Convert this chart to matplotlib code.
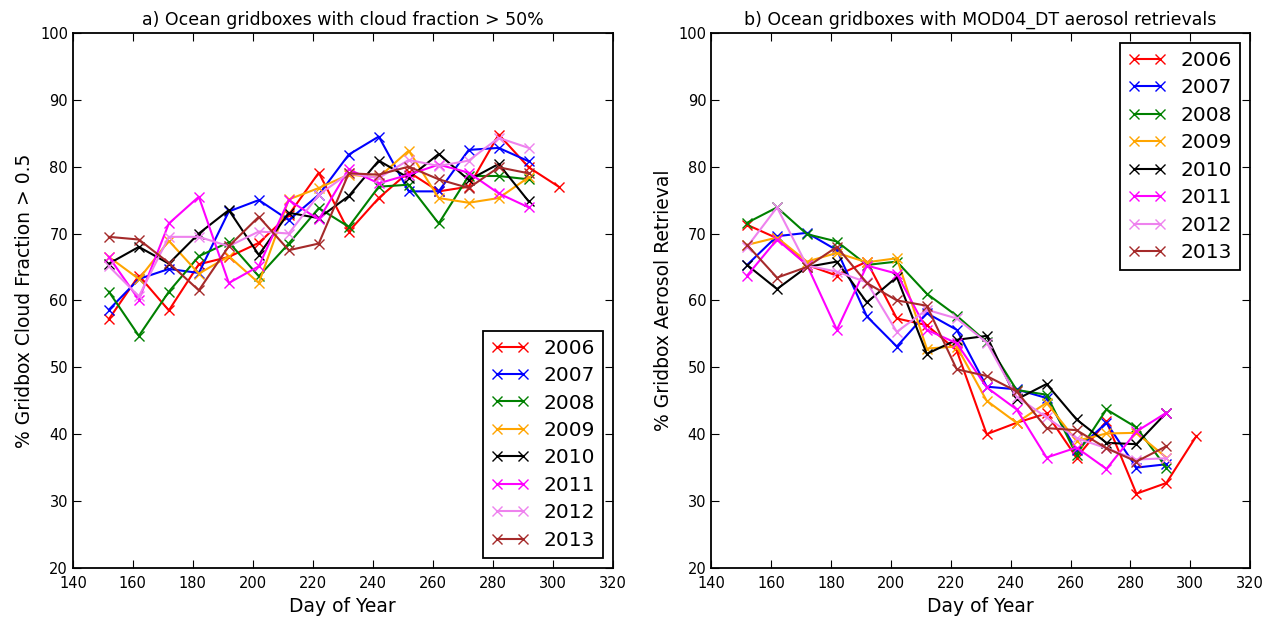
import numpy as np
import matplotlib
matplotlib.use('Agg')
import matplotlib.pyplot as plt

# day of year for each sample
days = [152, 162, 172, 182, 192, 202, 212, 222, 232, 242, 252, 262, 272, 282, 292, 302]
years = ['2006', '2007', '2008', '2009', '2010', '2011', '2012', '2013']
colors = ['red', 'blue', 'green', 'orange', 'black', 'magenta', 'violet', 'brown']

# a) % gridbox cloud fraction > 0.5  (2006 has one extra point)
cf_2006 = [57.2, 63.7, 58.5, 65.4, 66.5, 68.6, 72.8, 79.1, 70.3, 75.3, 79.2, 76.3, 77.0, 84.8, 79.9, 77.0]
cf_2007 = [58.6, 63.2, 64.7, 64.1, 73.3, 75.0, 72.0, 75.8, 81.8, 84.5, 76.3, 76.3, 82.5, 82.8, 80.8]
cf_2008 = [61.3, 54.7, 61.3, 66.6, 68.7, 63.6, 68.5, 73.8, 71.0, 77.0, 77.3, 71.5, 78.6, 78.6, 78.1]
cf_2009 = [66.5, 63.2, 68.9, 64.0, 66.6, 62.6, 75.1, 76.8, 78.8, 78.4, 82.4, 75.3, 74.6, 75.3, 78.4]
cf_2010 = [65.5, 68.0, 65.5, 70.0, 73.5, 66.8, 73.1, 72.3, 75.6, 80.9, 78.3, 81.9, 78.0, 80.4, 74.8]
cf_2011 = [66.5, 60.1, 71.5, 75.5, 62.6, 65.1, 75.0, 72.1, 79.6, 77.5, 78.8, 80.3, 79.1, 76.0, 73.9]
cf_2012 = [65.1, 60.6, 69.5, 69.5, 68.1, 70.3, 70.0, 75.8, 79.0, 78.3, 81.0, 80.1, 80.9, 84.3, 82.8]
cf_2013 = [69.5, 69.1, 65.6, 61.5, 68.1, 72.5, 67.5, 68.5, 79.0, 78.8, 80.0, 78.1, 76.8, 79.9, 79.0]

# b) % gridbox aerosol retrieval
ae_2006 = [71.3, 69.3, 65.3, 63.7, 65.8, 57.3, 56.3, 52.5, 40.0, 41.7, 43.1, 36.5, 41.9, 31.1, 32.7, 39.7]
ae_2007 = [65.3, 69.6, 70.1, 67.5, 57.6, 53.1, 58.1, 55.6, 47.1, 46.7, 45.4, 37.6, 41.7, 35.0, 35.5]
ae_2008 = [71.6, 73.9, 69.9, 68.8, 65.3, 65.8, 61.0, 57.7, 53.8, 46.6, 45.9, 36.9, 43.7, 41.0, 35.0]
ae_2009 = [68.3, 69.4, 65.8, 67.1, 65.7, 66.3, 52.8, 53.1, 45.0, 41.7, 44.7, 39.0, 40.1, 40.2, 36.5]
ae_2010 = [65.3, 61.7, 65.0, 65.8, 59.7, 63.5, 52.0, 54.1, 54.7, 45.2, 47.5, 42.2, 38.7, 38.5, 43.2]
ae_2011 = [63.7, 69.1, 65.3, 55.6, 65.2, 64.0, 55.6, 53.6, 47.0, 43.7, 36.5, 38.0, 34.8, 40.4, 43.2]
ae_2012 = [68.0, 73.9, 65.2, 64.3, 62.7, 55.3, 58.6, 57.3, 53.7, 45.6, 42.5, 39.4, 37.9, 36.2, 36.4]
ae_2013 = [68.3, 63.4, 65.0, 68.0, 62.6, 60.0, 59.2, 49.7, 48.7, 46.4, 40.9, 40.6, 37.9, 35.9, 38.2]

cloud = [cf_2006, cf_2007, cf_2008, cf_2009, cf_2010, cf_2011, cf_2012, cf_2013]
aero = [ae_2006, ae_2007, ae_2008, ae_2009, ae_2010, ae_2011, ae_2012, ae_2013]

fig = plt.figure(figsize=(12.79, 6.2), dpi=100)
ax1 = fig.add_axes([0.057, 0.084, 0.422, 0.863])
ax2 = fig.add_axes([0.556, 0.084, 0.4215, 0.863])

def panel(ax, data, title, ylabel, loc):
    for yr, col, vals in zip(years, colors, data):
        ax.plot(days[:len(vals)], vals, color=col, marker='x', markersize=6.5,
                markeredgewidth=1.0, linewidth=1.5, label=yr)
    ax.set_xlim(140, 320)
    ax.set_ylim(20, 100)
    ax.set_xticks(range(140, 321, 20))
    ax.set_yticks(range(20, 101, 10))
    ax.tick_params(direction='in', top=True, right=True, labelsize=10.5, length=6)
    ax.tick_params(axis='x', pad=6)
    for s in ax.spines.values():
        s.set_linewidth(1.3)
    ax.set_title(title, fontsize=12.5)
    ax.set_xlabel('Day of Year', fontsize=13.5)
    ax.set_ylabel(ylabel, fontsize=13.5)
    leg = ax.legend(loc=loc, fontsize=14.5, fancybox=False, framealpha=1,
                    edgecolor='black', numpoints=2, handlelength=1.9,
                    handletextpad=0.7, labelspacing=0.42)
    leg.get_frame().set_linewidth(1.3)

panel(ax1, cloud, 'a) Ocean gridboxes with cloud fraction > 50%',
      '% Gridbox Cloud Fraction > 0.5', 'lower right')
panel(ax2, aero, 'b) Ocean gridboxes with MOD04_DT aerosol retrievals',
      '% Gridbox Aerosol Retrieval', 'upper right')

fig.savefig('out.png', dpi=100)
